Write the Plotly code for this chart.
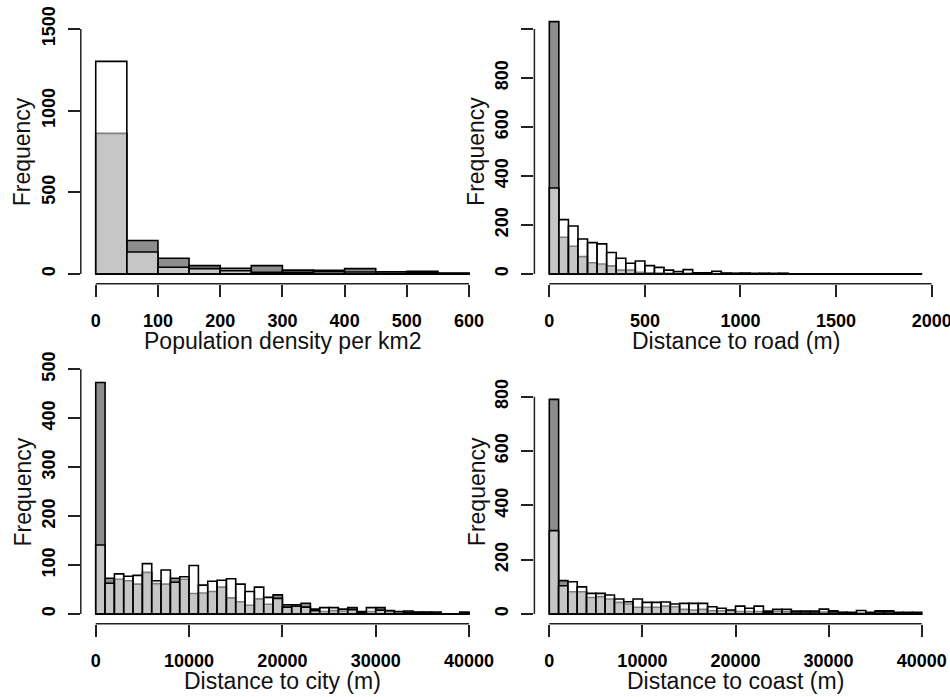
import plotly.graph_objects as go

# ---------------- data ----------------
# Population density per km2, bins of 50 from 0 to 600
pop_bin_width = 50
pop_A = [1302, 135, 41, 33, 20, 10, 10, 14, 12, 5, 9, 3]
pop_B = [861, 205, 96, 51, 35, 51, 24, 22, 33, 14, 16, 6]

# Distance to road (m), bins of 50 from 0 to 1950
road_bin_width = 50
road_A = [351, 222, 196, 143, 128, 123, 88, 64, 44, 53, 34, 27, 16, 10, 18, 5, 5, 11, 4, 3,
          4, 3, 3, 3, 3, 0, 0, 0, 0, 0, 0, 0, 0, 0, 0, 0, 0, 0, 0]
road_B = [1030, 150, 113, 71, 46, 41, 33, 16, 16, 7, 5, 4, 3, 3, 3, 2, 2, 2, 2, 2,
          2, 1, 2, 1, 2, 0, 0, 0, 0, 0, 0, 0, 0, 0, 0, 0, 0, 0, 0]

# Distance to city (m), bins of 1000 from 0 to 40000
city_bin_width = 1000
city_A = [141, 63, 82, 77, 79, 103, 68, 90, 65, 76, 99, 59, 67, 69, 72, 61, 46, 55, 34, 32,
          14, 16, 14, 7, 13, 13, 10, 9, 3, 13, 8, 7, 5, 3, 3, 3, 2, 0, 0, 2]
city_B = [473, 73, 71, 68, 61, 85, 62, 61, 73, 71, 42, 43, 46, 55, 33, 25, 18, 31, 20, 39,
          19, 19, 22, 10, 5, 7, 6, 13, 5, 5, 13, 5, 3, 6, 4, 4, 4, 0, 0, 4]

# Distance to coast (m), bins of 1000 from 0 to 40000
coast_bin_width = 1000
coast_A = [307, 104, 119, 100, 76, 76, 70, 55, 45, 55, 43, 43, 44, 37, 39, 39, 39, 27, 21, 15,
           29, 21, 29, 7, 17, 17, 8, 8, 8, 18, 8, 6, 6, 13, 6, 8, 8, 6, 6, 6]
coast_B = [790, 123, 82, 82, 61, 64, 55, 43, 37, 25, 25, 25, 29, 27, 17, 15, 17, 12, 12, 12,
           9, 9, 9, 11, 9, 8, 11, 11, 11, 7, 12, 5, 4, 4, 4, 12, 12, 3, 3, 3]

x_titles = ["Population density per km2", "Distance to road (m)",
            "Distance to city (m)", "Distance to coast (m)"]
y_title = "Frequency"

pop_xticks = [0, 100, 200, 300, 400, 500, 600]
pop_yticks = [0, 500, 1000, 1500]
road_xticks = [0, 500, 1000, 1500, 2000]
road_yticks = [0, 200, 400, 600, 800, 1000]
road_ytick_labels = ["0", "200", "400", "600", "800", ""]
dist_xticks = [0, 10000, 20000, 30000, 40000]
city_yticks = [0, 100, 200, 300, 400, 500]
coast_yticks = [0, 200, 400, 600, 800]

# ---------------- layout geometry (pixels) ----------------
W, H = 950, 697
FONT = "Liberation Sans, Arial, sans-serif"
DARK = "#8d8d8d"
OVER = "rgba(255,255,255,0.5)"
LW = 1.6


def px_x(p):
    return p / W


def px_y(p):
    return 1 - p / H


panels = [
    dict(width=pop_bin_width, A=pop_A, B=pop_B, xr=[-24, 624], yr=[-60, 1560],
         xt=pop_xticks, yt=pop_yticks, ytt=[str(v) for v in pop_yticks],
         dx=(80.8, 484.0), dy=(19.2, 283.8), title=x_titles[0]),
    dict(width=road_bin_width, A=road_A, B=road_B, xr=[-78, 2028], yr=[-40, 1040],
         xt=road_xticks, yt=road_yticks, ytt=road_ytick_labels,
         dx=(534.4, 937.0), dy=(19.2, 283.8), title=x_titles[1]),
    dict(width=city_bin_width, A=city_A, B=city_B, xr=[-1600, 41600], yr=[-20, 520],
         xt=dist_xticks, yt=city_yticks, ytt=[str(v) for v in city_yticks],
         dx=(80.8, 484.0), dy=(359.5, 623.8), title=x_titles[2]),
    dict(width=coast_bin_width, A=coast_A, B=coast_B, xr=[-1600, 41600], yr=[-36, 936],
         xt=dist_xticks, yt=coast_yticks, ytt=[str(v) for v in coast_yticks],
         dx=(534.4, 936.6), dy=(359.7, 623.8), title=x_titles[3]),
]

fig = go.Figure()
layout = dict(
    width=W, height=H, margin=dict(l=0, r=0, t=0, b=0, autoexpand=False),
    paper_bgcolor="white", plot_bgcolor="white",
    barmode="overlay", showlegend=False,
    font=dict(family=FONT, color="black"),
)
shapes = []
annotations = []

for i, p in enumerate(panels):
    k = "" if i == 0 else str(i + 1)
    xa, ya = "x" + k, "y" + k
    n = len(p["A"])
    centers = [p["width"] * (j + 0.5) for j in range(n)]
    widths = [p["width"]] * n
    fig.add_trace(go.Bar(x=centers, y=p["B"], width=widths, xaxis=xa, yaxis=ya,
                         marker=dict(color=DARK, line=dict(color="black", width=LW)),
                         hoverinfo="skip"))
    fig.add_trace(go.Bar(x=centers, y=p["A"], width=widths, xaxis=xa, yaxis=ya,
                         marker=dict(color=OVER, line=dict(color="black", width=LW)),
                         hoverinfo="skip"))
    # baseline of empty bins (R draws zero-height rectangles as a line)
    fig.add_trace(go.Scatter(x=[0, p["width"] * n], y=[0, 0], mode="lines",
                             xaxis=xa, yaxis=ya, line=dict(color="black", width=LW),
                             hoverinfo="skip"))
    axis_common = dict(ticks="outside", ticklen=12, tickwidth=1.5, tickcolor="#222",
                       showgrid=False, zeroline=False, showline=False, fixedrange=True,
                       automargin=False, ticklabeloverflow="allow",
                       tickfont=dict(family=FONT, size=18, color="black", weight="bold"))
    layout["xaxis" + k] = dict(axis_common, domain=[px_x(p["dx"][0]), px_x(p["dx"][1])],
                               range=p["xr"], tickvals=p["xt"],
                               ticktext=[str(v) for v in p["xt"]],
                               anchor=ya, ticklabelstandoff=9)
    layout["yaxis" + k] = dict(axis_common, domain=[px_y(p["dy"][1]), px_y(p["dy"][0])],
                               range=p["yr"], tickvals=p["yt"], ticktext=p["ytt"],
                               anchor=xa, tickangle=-90, ticklabelstandoff=6)
    # R-style axis lines spanning first to last tick only
    shapes.append(dict(type="line", xref=xa, yref=ya + " domain",
                       x0=p["xt"][0], x1=p["xt"][-1], y0=0, y1=0,
                       line=dict(color="#222", width=1.5)))
    shapes.append(dict(type="line", xref=xa + " domain", yref=ya,
                       x0=0, x1=0, y0=p["yt"][0], y1=p["yt"][-1],
                       line=dict(color="#222", width=1.5)))
    # axis titles
    cx = (p["dx"][0] + p["dx"][1]) / 2
    annotations.append(dict(text=p["title"], xref="paper", yref="paper",
                            x=px_x(cx), y=px_y(p["dy"][1] + 57),
                            xanchor="center", yanchor="middle", showarrow=False,
                            font=dict(family=FONT, size=23, color="#111")))
    cy = (p["dy"][0] + p["dy"][1]) / 2
    annotations.append(dict(text=y_title, xref="paper", yref="paper",
                            x=px_x(p["dx"][0] - 58), y=px_y(cy), textangle=-90,
                            xanchor="center", yanchor="middle", showarrow=False,
                            font=dict(family=FONT, size=23, color="#111")))

layout["shapes"] = shapes
layout["annotations"] = annotations
fig.update_layout(**layout)
fig.write_html("out.html")
